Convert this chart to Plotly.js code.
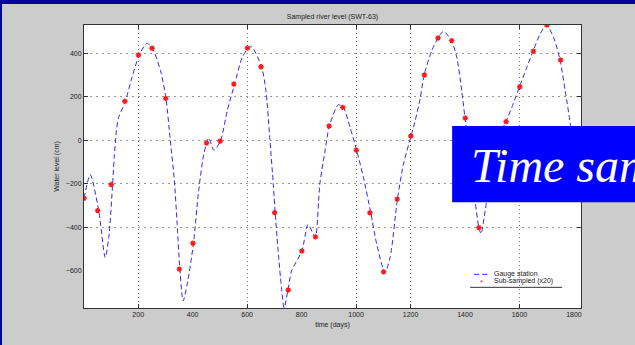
<!DOCTYPE html>
<html>
<head>
<meta charset="utf-8">
<script src="https://cdn.plot.ly/plotly-3.0.1.min.js"></script>
<style>
  html, body { margin: 0; padding: 0; width: 635px; height: 345px; overflow: hidden; background: #0000a0; }
  #chart { position: absolute; left: 2px; top: 4px; width: 633px; height: 341px; }
</style>
</head>
<body>
<div id="chart"></div>
<script>
// Gauge record (day, level in cm)
const days = [1, 24, 55, 79, 92, 106, 112, 120, 128, 153, 177, 204, 232, 252, 282, 302, 318, 333, 343, 353,
  365, 380, 403, 422, 441, 459, 478, 502, 527, 554, 582, 605, 617, 653, 669, 683, 696, 703, 714, 726,
  736, 750, 763, 801, 824, 843, 851, 867, 886, 902, 935, 953, 978, 1002, 1027, 1054, 1076, 1106, 1125, 1152,
  1174, 1202, 1217, 1235, 1250, 1278, 1301, 1321, 1350, 1370, 1388, 1400, 1419, 1437, 1451, 1459, 1474, 1486, 1501, 1529,
  1550, 1572, 1600, 1627, 1650, 1676, 1699, 1725, 1749, 1768, 1786, 1801, 1826];
const level = [-266, -158, -323, -539, -447, -203, -78, 44, 106, 180, 290, 393, 447, 424, 321, 193, -2, -186, -386, -592,
  -739, -662, -473, -232, -63, 11, -45, -3, 136, 259, 382, 425, 431, 339, 229, 14, -201, -332, -509, -677,
  -770, -688, -601, -509, -386, -432, -444, -201, -48, 66, 164, 152, 60, -45, -170, -333, -478, -608, -539, -270,
  -109, 20, 90, 190, 301, 413, 471, 502, 459, 382, 229, 103, -78, -278, -401, -429, -324, -232, -150, 29,
  86, 152, 247, 336, 411, 490, 531, 475, 370, 229, 83, -40, -230];

// Sub-sampled points
const sampleDays = [1, 51, 101, 151, 201, 251, 301, 351, 401, 451, 501, 551, 601, 651, 701, 751, 801, 851, 901,
  951, 1001, 1051, 1101, 1151, 1201, 1251, 1301, 1351, 1401, 1451, 1501, 1551, 1601, 1651, 1701, 1751, 1801];
const sampleLevel = [-266, -323, -203, 180, 393, 424, 193, -592, -473, -12, -3, 259, 425, 339, -332, -688, -509, -444, 66,
  152, -45, -333, -605, -270, 20, 301, 471, 459, 103, -401, -150, 86, 247, 411, 531, 370, -40];

const xTicks = [200, 400, 600, 800, 1000, 1200, 1400, 1600, 1800];
const xGrid = [200, 600, 1000, 1200, 1600];
const yTicks = [-600, -400, -200, 0, 200, 400];
const yGrid = [-400, -200, 0, 200, 400];

const seriesNames = ['Gauge station', 'Sub-sampled (x20)'];

const xRange = [1, 1826];
const yRange = [-771, 531];

const lineColor = '#2a2aff';
const markColor = '#ff1a1a';

const traces = [
  {
    x: days, y: level, type: 'scatter', mode: 'lines', name: seriesNames[0], showlegend: false,
    line: { color: lineColor, width: 1, dash: '5px,3px', shape: 'spline', smoothing: 0.7 },
    hoverinfo: 'skip'
  },
  {
    x: sampleDays, y: sampleLevel, type: 'scatter', mode: 'markers', name: seriesNames[1], showlegend: false,
    marker: { symbol: 'asterisk-open', size: 4.5, color: markColor, line: { color: markColor, width: 1.4 } },
    hoverinfo: 'skip'
  },
  { x: [], y: [], xaxis: 'x2', yaxis: 'y2', type: 'scatter', mode: 'lines', showlegend: false, hoverinfo: 'skip' }
];

const tickFont = { family: 'Liberation Sans, Arial, sans-serif', size: 7, color: '#222' };

const layout = {
  width: 633, height: 341,
  margin: { l: 82, r: 54, t: 21, b: 37, pad: 0 },
  paper_bgcolor: '#cccccc',
  plot_bgcolor: '#ffffff',
  font: tickFont,
  showlegend: false,
  title: {
    text: 'Sampled river level (SWT-63)',
    font: { family: 'Liberation Sans, Arial, sans-serif', size: 7, color: '#222' },
    x: 0.5, xref: 'paper', xanchor: 'center',
    y: 0.962, yref: 'container', yanchor: 'middle'
  },
  xaxis: {
    range: xRange, tickvals: xTicks, ticks: '', showgrid: false, zeroline: false,
    showline: true, mirror: true, linecolor: '#333', linewidth: 1,
    tickfont: tickFont,
    title: { text: 'time (days)', font: tickFont, standoff: 4 }
  },
  xaxis2: {
    overlaying: 'x', anchor: 'y', range: xRange, tickvals: xGrid, showticklabels: false,
    ticks: 'inside', ticklen: 4, tickcolor: '#333', mirror: 'ticks',
    showgrid: true, gridcolor: '#777', griddash: '1px,3px', gridwidth: 1, zeroline: false, showline: false
  },
  yaxis: {
    range: yRange, tickvals: yTicks, ticks: '', showgrid: false, zeroline: false,
    showline: true, mirror: true, linecolor: '#333', linewidth: 1,
    tickfont: tickFont,
    title: { text: 'Water level (cm)', font: tickFont, standoff: 5 }
  },
  yaxis2: {
    overlaying: 'y', anchor: 'x', range: yRange, tickvals: yGrid, showticklabels: false,
    ticks: 'inside', ticklen: 4, tickcolor: '#333', mirror: 'ticks',
    showgrid: true, gridcolor: '#999', griddash: '2px,4px', gridwidth: 1, zeroline: false, showline: false
  },
  shapes: [
    // legend: sample line and underline
    { type: 'line', xref: 'paper', yref: 'paper', x0: 0.785, x1: 0.813, y0: 0.119, y1: 0.119,
      line: { color: lineColor, width: 1, dash: '5px,3px' } },
    { type: 'line', xref: 'paper', yref: 'paper', x0: 0.777, x1: 0.962, y0: 0.073, y1: 0.073,
      line: { color: '#333', width: 1 } },
    // overlay banner
    { type: 'rect', xref: 'paper', yref: 'paper', x0: 0.7407, x1: 1.2, y0: 0.374, y1: 0.643,
      fillcolor: '#0000ff', line: { width: 0 }, layer: 'above' }
  ],
  annotations: [
    { text: seriesNames[0], xref: 'paper', yref: 'paper', x: 0.821, y: 0.119,
      xanchor: 'left', yanchor: 'middle', showarrow: false, font: tickFont },
    { text: seriesNames[1], xref: 'paper', yref: 'paper', x: 0.821, y: 0.094,
      xanchor: 'left', yanchor: 'middle', showarrow: false, font: tickFont },
    { text: '*', xref: 'paper', yref: 'paper', x: 0.799, y: 0.09,
      xanchor: 'center', yanchor: 'middle', showarrow: false,
      font: { family: 'Liberation Sans, Arial, sans-serif', size: 8, color: markColor } },
    { text: 'Time sampling', xref: 'paper', yref: 'paper', x: 0.775, y: 0.505,
      xanchor: 'left', yanchor: 'middle', showarrow: false,
      font: { family: 'Liberation Serif, Times New Roman, serif', size: 48, color: '#ffffff', style: 'italic' } }
  ]
};

Plotly.newPlot('chart', traces, layout, { displayModeBar: false, staticPlot: true });
</script>
</body>
</html>
